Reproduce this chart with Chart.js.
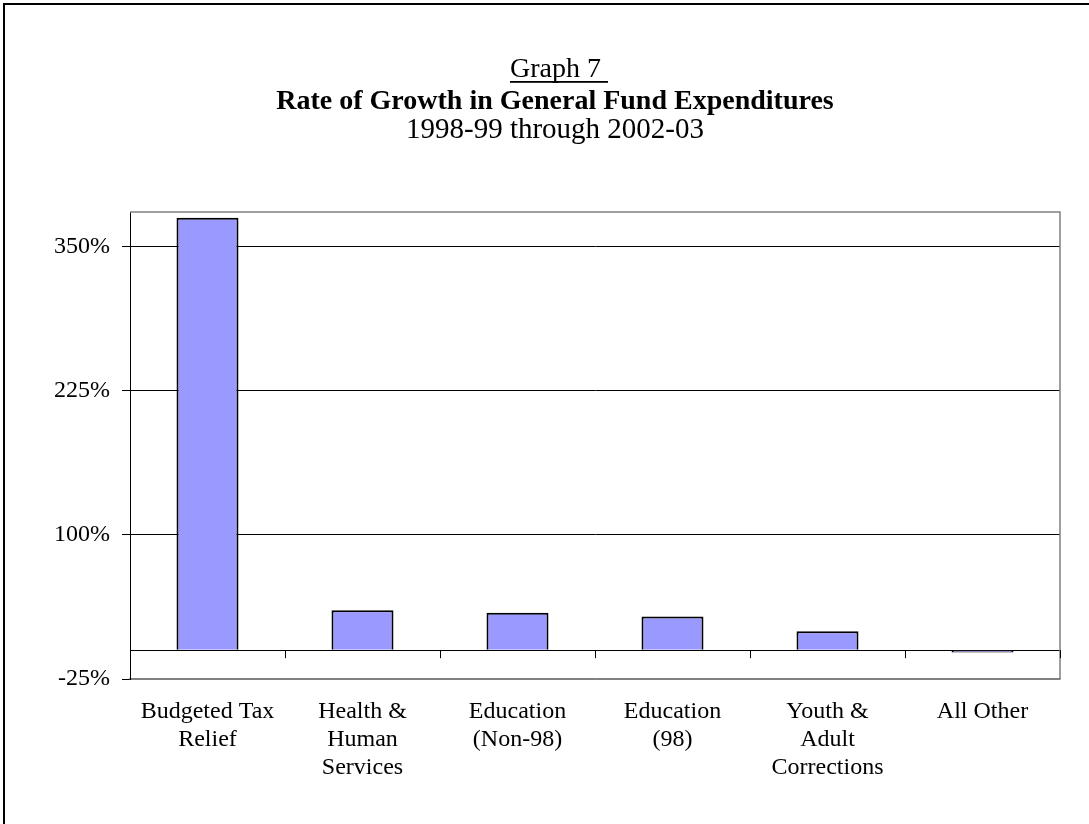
<!DOCTYPE html>
<html>
<head>
<meta charset="utf-8">
<script src="https://cdn.jsdelivr.net/npm/chart.js@4/dist/chart.umd.min.js"></script>
<style>
  html, body { margin: 0; padding: 0; background: #fff; overflow: hidden; }
  #frame { position: absolute; left: 3px; top: 3px; width: 1200px; height: 1000px; border: 2px solid #000; }
  #wrap { position: absolute; left: 0; top: 0; width: 1089px; height: 824px; }
</style>
</head>
<body>
<div id="frame"></div>
<div id="wrap"><canvas id="growthChart"></canvas></div>
<script>
const categories = [
  ["Budgeted Tax", "Relief"],
  ["Health &", "Human", "Services"],
  ["Education", "(Non-98)"],
  ["Education", "(98)"],
  ["Youth &", "Adult", "Corrections"],
  ["All Other"],
];
const growthRates = [375, 34.6, 32.5, 29.1, 16.4, -2];
const yTickValues = [-25, 0, 100, 225, 350];
const yMin = -25;
const yMax = 380;

const serif = "'Liberation Serif', 'Times New Roman', serif";

// "Graph 7" heading, underlined, centred over the title block
const headingPlugin = {
  id: "heading",
  afterDraw(chart) {
    const ctx = chart.ctx;
    const text = "Graph 7 ";
    const tb = chart.titleBlock;
    ctx.save();
    ctx.font = "28px " + serif;
    ctx.fillStyle = "#000";
    ctx.textBaseline = "alphabetic";
    const w = ctx.measureText(text).width;
    const x0 = (tb.left + tb.right) / 2 + 4 - w / 2;
    ctx.fillText(text, x0, 77);
    ctx.fillRect(x0, 81, w, 1.8);
    ctx.restore();
  },
};

// gray plot frame (top/right) and the tick marks along the zero line
const plotFramePlugin = {
  id: "plotFrame",
  beforeDatasetsDraw(chart) {
    const { ctx, chartArea } = chart;
    ctx.save();
    ctx.strokeStyle = "#808080";
    ctx.lineWidth = 1.5;
    ctx.beginPath();
    ctx.moveTo(chartArea.left, chartArea.top);
    ctx.lineTo(chartArea.right, chartArea.top);
    ctx.lineTo(chartArea.right, chartArea.bottom);
    ctx.stroke();
    ctx.restore();
  },
  afterDatasetsDraw(chart) {
    const { ctx } = chart;
    const x = chart.scales.x;
    const y0 = chart.scales.y.getPixelForValue(0);
    const step = x.getPixelForValue(1) - x.getPixelForValue(0);
    ctx.save();
    ctx.strokeStyle = "#000";
    ctx.lineWidth = 1;
    ctx.beginPath();
    for (let i = 0; i < categories.length; i++) {
      const px = Math.round(x.getPixelForValue(i) + step / 2) + 0.5;
      ctx.moveTo(px, y0);
      ctx.lineTo(px, y0 + 8);
    }
    ctx.stroke();
    ctx.restore();
  },
};

const ctx = document.getElementById("growthChart");
new Chart(ctx, {
  type: "bar",
  data: {
    labels: categories,
    datasets: [
      {
        data: growthRates,
        backgroundColor: "#9999FF",
        borderColor: "#000",
        borderWidth: 2,
        barPercentage: 0.4,
        categoryPercentage: 1,
      },
    ],
  },
  options: {
    responsive: true,
    maintainAspectRatio: false,
    animation: false,
    layout: {
      padding: { top: 0, right: 29, bottom: 0, left: 50 },
    },
    plugins: {
      legend: { display: false },
      tooltip: { enabled: false },
      title: {
        display: true,
        text: "Rate of Growth in General Fund Expenditures",
        color: "#000",
        font: { family: serif, size: 28, weight: "bold", lineHeight: 1 },
        padding: { top: 88, bottom: 0 },
      },
      subtitle: {
        display: true,
        text: "1998-99 through 2002-03",
        color: "#000",
        font: { family: serif, size: 29, lineHeight: 1 },
        padding: { top: 0, bottom: 67 },
      },
    },
    scales: {
      x: {
        grid: { display: false, drawTicks: false },
        border: { color: "#808080", width: 1.5 },
        ticks: {
          color: "#000",
          padding: 19,
          maxRotation: 0,
          autoSkip: false,
          font: { family: serif, size: 24, lineHeight: 1.1667 },
        },
        afterFit(scale) {
          scale.height = 145;
        },
      },
      y: {
        min: yMin,
        max: yMax,
        afterBuildTicks(scale) {
          scale.ticks = yTickValues.map((v) => ({ value: v }));
        },
        grid: {
          color: (c) => (c.tick && c.tick.value === yMin ? "#808080" : "#000"),
          tickColor: (c) => (c.tick && c.tick.value === 0 ? "rgba(0,0,0,0)" : "#000"),
          tickLength: 8,
          lineWidth: 1,
        },
        border: { color: "#000", width: 1 },
        ticks: {
          color: "#000",
          padding: 12,
          font: { family: serif, size: 24 },
          callback: (v) => (v === 0 ? "" : v + "%"),
        },
        afterFit(scale) {
          scale.width = 80;
        },
      },
    },
  },
  plugins: [headingPlugin, plotFramePlugin],
});
</script>
</body>
</html>
